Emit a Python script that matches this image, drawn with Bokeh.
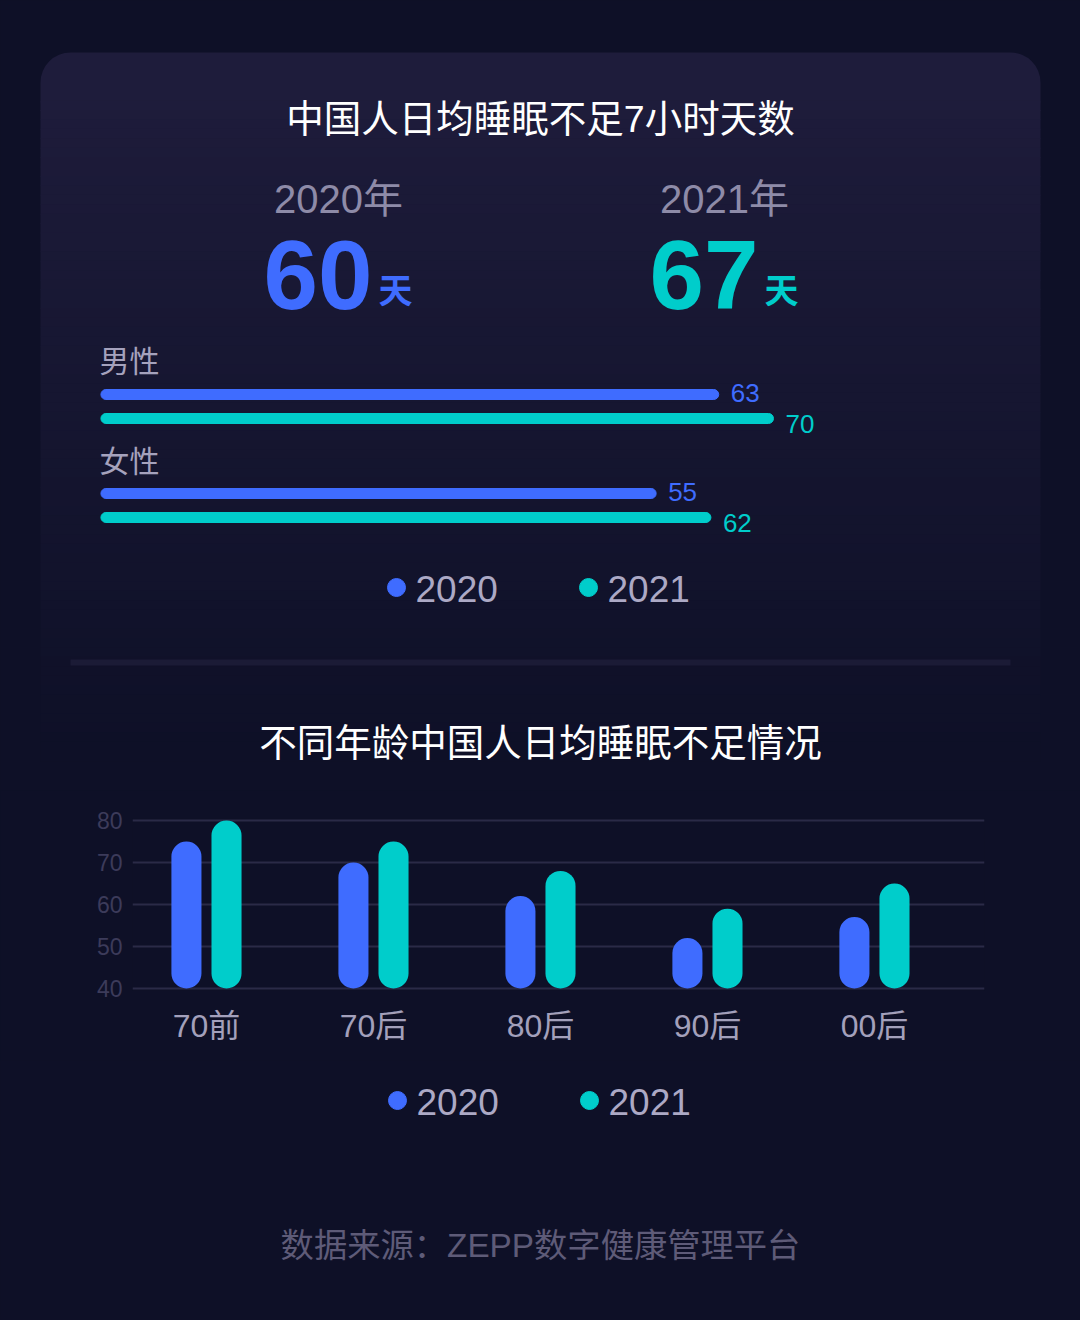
import numpy as np
from bokeh.plotting import figure
from bokeh.layouts import column
from bokeh.models import Range1d, FixedTicker, ColumnDataSource
from bokeh.core.properties import value
from bokeh.embed import file_html
from bokeh.resources import INLINE

# ---------------- data ----------------
title_top = "中国人日均睡眠不足7小时天数"
years = ["2020", "2021"]
year_titles = ["2020年", "2021年"]
avg_days = [60, 67]
day_unit = "天"
genders = ["男性", "女性"]
male_days = [63, 70]
female_days = [55, 62]
title_bottom = "不同年龄中国人日均睡眠不足情况"
age_groups = ["70前", "70后", "80后", "90后", "00后"]
age_2020 = [75, 70, 62, 52, 57]
age_2021 = [80, 75, 68, 59, 65]
y_ticks = [40, 50, 60, 70, 80]
source_note = "数据来源：ZEPP数字健康管理平台"

# ---------------- style ----------------
BLUE = "#3f6cff"
TEAL = "#00cdcb"
SERIES_COLORS = [BLUE, TEAL]
BG = "#0e1027"
FONT_STR = "'Liberation Sans', 'Noto Sans CJK SC'"
FONT = value(FONT_STR)
W = 1080
BGSTYLE = {"background-color": BG}


def base_fig(height, x_range, y_range, **kw):
    p = figure(width=W, height=height, x_range=x_range, y_range=y_range,
               toolbar_location=None, output_backend="svg",
               background_fill_color=BG, border_fill_color=BG,
               outline_line_color=None, frame_align=False,
               styles=BGSTYLE, **kw)
    return p


# ================= top panel (pixel coordinates) =================
pa = base_fig(790, Range1d(0, 1080), Range1d(790, 0),
              x_axis_location=None, y_axis_location=None, min_border=0)
pa.xgrid.visible = False
pa.ygrid.visible = False

# card with vertical fade
c0 = np.array([0x1e, 0x1c, 0x3b])
c1 = np.array([0x0e, 0x10, 0x27])
pa.quad(left=[40], right=[1040], top=[52], bottom=[130],
        border_radius=30, color="#1e1c3b", line_color=None)
nb = 70
edges = np.linspace(100, 760, nb + 1)
cols = []
for i in range(nb):
    t = (i / (nb - 1)) ** 0.85
    c = np.round(c0 * (1 - t) + c1 * t).astype(int)
    cols.append("#%02x%02x%02x" % tuple(c))
pa.quad(left=40, right=1040, top=edges[:-1], bottom=edges[1:] + 1,
        color=cols, line_color=None)

pa.text(x=[540], y=[118], text=[title_top], text_align="center",
        text_baseline="middle", text_font=FONT, text_font_size="37.5px",
        text_color="#ffffff")

col_x = [338, 724]
pa.text(x=col_x, y=[198, 198], text=year_titles, text_align="center",
        text_baseline="middle", text_font=FONT, text_font_size="40px",
        text_color="#8e8ba8")
pa.text(x=[c + 34 for c in col_x], y=[274, 274], text=[str(v) for v in avg_days],
        text_align="right", text_baseline="middle", text_font=FONT,
        text_font_size="98px", text_font_style="bold",
        text_color=SERIES_COLORS)
pa.text(x=[c + 40 for c in col_x], y=[290, 290], text=[day_unit, day_unit],
        text_align="left", text_baseline="middle", text_font=FONT,
        text_font_size="34px", text_font_style="bold",
        text_color=SERIES_COLORS)

# gender bars on a value range
BAR_BASE = -16
pa.extra_x_ranges = {"val": Range1d(-28.84, 109.26)}
gender_vals = [male_days, female_days]
hb = dict(y=[], val=[], color=[], label=[], yoff=[])
for g, vals in enumerate(gender_vals):
    for s, v in enumerate(vals):
        hb["y"].append(394 + 99 * g + 24 * s)
        hb["val"].append(v)
        hb["color"].append(SERIES_COLORS[s])
        hb["label"].append(str(v))
        hb["yoff"].append(-2 if s == 0 else 5)
src = ColumnDataSource(hb)
pa.hbar(y="y", left=BAR_BASE, right="val", height=10, color="color",
        border_radius=5, x_range_name="val", source=src)
pa.text(x="val", y="y", text="label", x_offset=12, y_offset="yoff",
        text_align="left", text_baseline="middle", text_font=FONT,
        text_font_size="26px", text_color="color", x_range_name="val",
        source=src)
pa.text(x=[99, 99], y=[361, 461], text=genders, text_align="left",
        text_baseline="middle", text_font=FONT, text_font_size="30px",
        text_color="#a5a2bd")

# top legend
pa.scatter(x=[396, 588], y=[587, 587], size=18, color=SERIES_COLORS)
pa.text(x=[415, 607], y=[588, 588], text=years, text_align="left",
        text_baseline="middle", text_font=FONT, text_font_size="37px",
        text_color="#aca9c5")

# divider
pa.quad(left=[70], right=[1010], top=[659], bottom=[665], color="#1b1b36",
        line_color=None)

pa.text(x=[540], y=[742], text=[title_bottom], text_align="center",
        text_baseline="middle", text_font=FONT, text_font_size="37.5px",
        text_color="#ffffff")

# ================= bar chart =================
n = len(age_groups)
idx = np.arange(n)
pb = base_fig(270, Range1d(-0.443, 4.659), Range1d(39.5, 80.5),
              min_border_left=132, min_border_right=96,
              min_border_top=28, min_border_bottom=70)
pb.vbar(x=idx - 0.12, bottom=y_ticks[0], top=age_2020, width=0.18,
        border_radius=15, color=BLUE, line_color=None)
pb.vbar(x=idx + 0.12, bottom=y_ticks[0], top=age_2021, width=0.18,
        border_radius=15, color=TEAL, line_color=None)

pb.xgrid.visible = False
pb.ygrid.ticker = FixedTicker(ticks=y_ticks)
pb.ygrid.grid_line_color = "#2a2a47"
pb.ygrid.grid_line_width = 2

pb.yaxis.ticker = FixedTicker(ticks=y_ticks)
pb.xaxis.ticker = FixedTicker(ticks=[int(i) for i in idx])
pb.xaxis.major_label_overrides = {int(i): age_groups[i] for i in idx}
for ax in (pb.xaxis, pb.yaxis):
    ax.axis_line_color = None
    ax.major_tick_line_color = None
    ax.minor_tick_line_color = None
    ax.major_tick_out = 0
    ax.major_label_text_font = FONT_STR
pb.yaxis.major_label_text_font_size = "23px"
pb.yaxis.major_label_text_color = "#3c3b5a"
pb.yaxis.major_label_standoff = 10
pb.xaxis.major_label_text_font_size = "32px"
pb.xaxis.major_label_text_color = "#a3a0bb"
pb.xaxis.major_label_standoff = 17

# ================= bottom legend + source =================
pc = base_fig(260, Range1d(0, 1080), Range1d(1320, 1060),
              x_axis_location=None, y_axis_location=None, min_border=0)
pc.xgrid.visible = False
pc.ygrid.visible = False
pc.scatter(x=[397, 589], y=[1100, 1100], size=18, color=SERIES_COLORS)
pc.text(x=[416, 608], y=[1101, 1101], text=years, text_align="left",
        text_baseline="middle", text_font=FONT, text_font_size="37px",
        text_color="#aca9c5")
pc.text(x=[540], y=[1245], text=[source_note], text_align="center",
        text_baseline="middle", text_font=FONT, text_font_size="33.3px",
        text_color="#5e5b78")

layout = column(pa, pb, pc, spacing=0, styles=BGSTYLE)
open("out.html", "w").write(file_html(layout, INLINE))
